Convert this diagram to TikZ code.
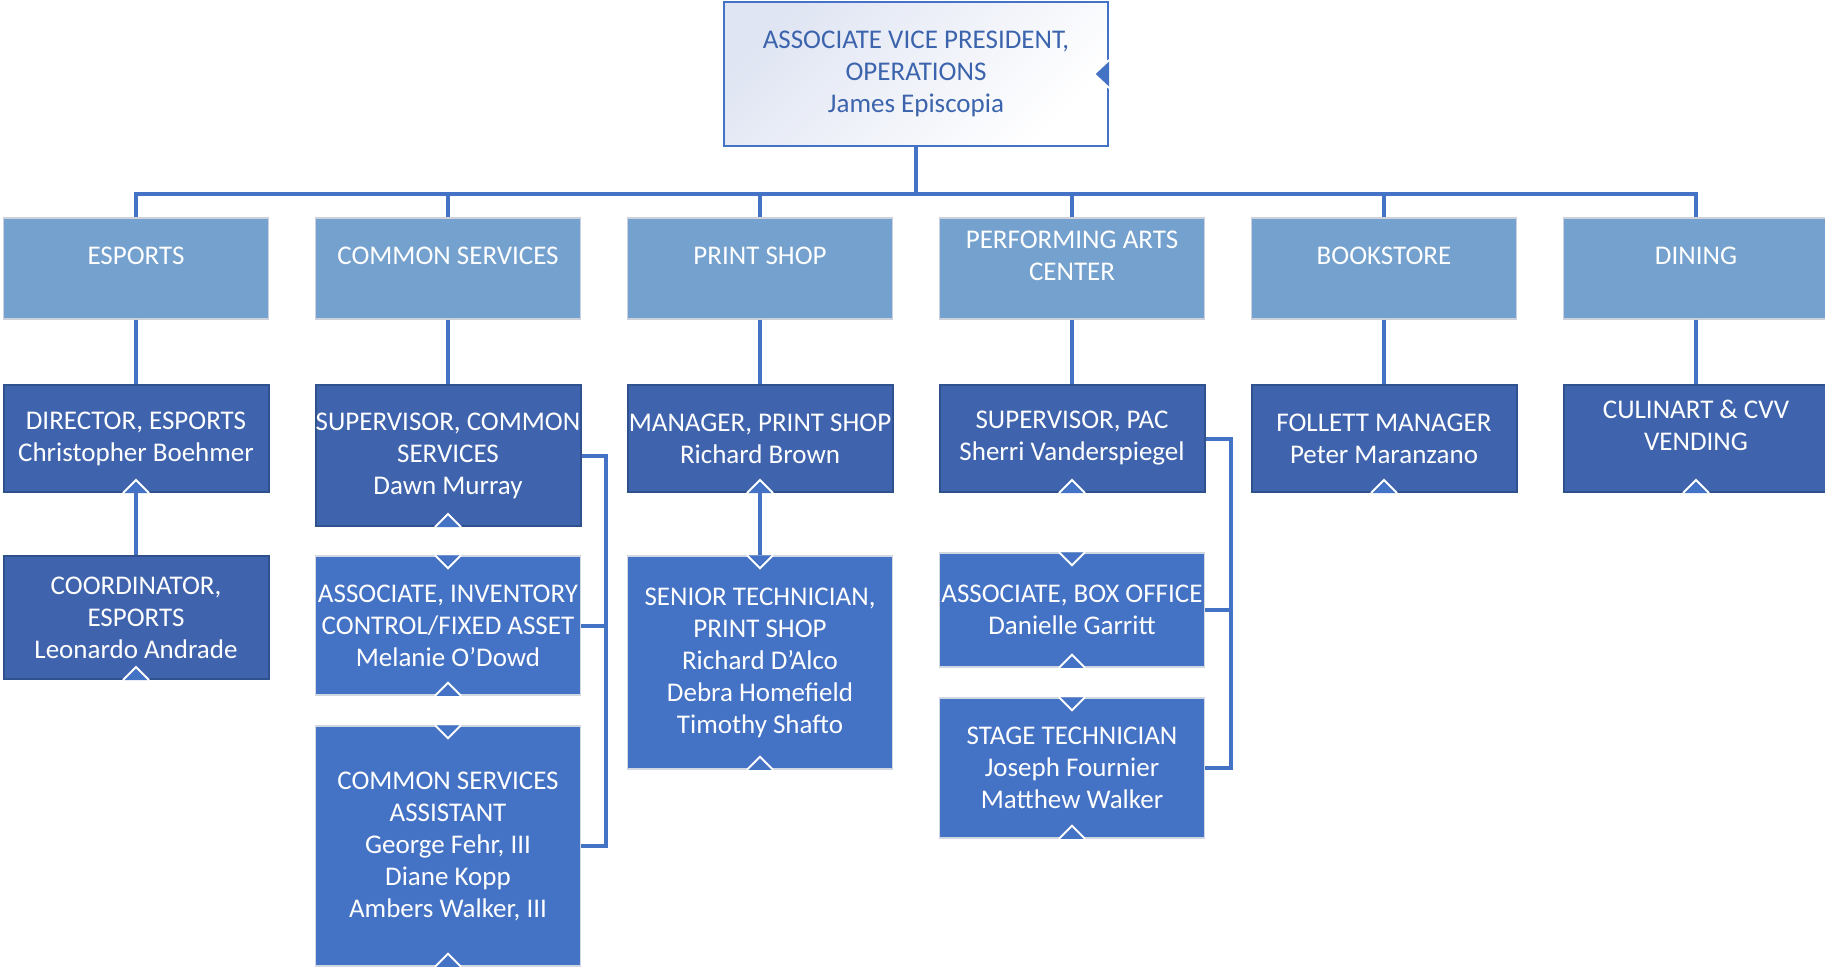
\documentclass[tikz,border=0pt]{standalone}
\usepackage{fontspec}
\setmainfont{Carlito}
\usepackage{tikz}
\usetikzlibrary{positioning, calc}

\definecolor{linkblue}{HTML}{4472C4}
\definecolor{deptfill}{HTML}{75A1CE}
\definecolor{deptedge}{HTML}{CBD1DA}
\definecolor{leadfill}{HTML}{3F64AD}
\definecolor{leadedge}{HTML}{2F528F}
\definecolor{staffedge}{HTML}{D2D8E2}
\definecolor{toptint}{HTML}{E0E5F3}
\definecolor{toptext}{HTML}{3B64AD}

\tikzset{
  chart/.style={font=\fontsize{13.5pt}{16pt}\selectfont, align=center, inner sep=0pt},
  topbox/.style={chart, rectangle, draw=linkblue, line width=1pt, top color=toptint, bottom color=white, shading angle=45, text=toptext, minimum width=192pt, minimum height=72pt},
  dept/.style={rectangle, draw=deptedge, line width=0.75pt, fill=deptfill, minimum width=132.5pt, minimum height=50.5pt},
  depttext/.style={chart, text=white},
  lead/.style={chart, rectangle, draw=leadedge, line width=1pt, fill=leadfill, text=white, minimum width=132.5pt},
  staff/.style={chart, rectangle, draw=staffedge, line width=0.75pt, fill=linkblue, text=white, minimum width=132.5pt},
  link/.style={draw=linkblue, line width=2pt},
  notch/.style={draw=white, fill=linkblue, line width=1pt}
}
\newcommand{\upnotch}[1]{%
  \filldraw[notch] ([xshift=-6.5pt]#1.south) -- ([yshift=6.5pt]#1.south) -- ([xshift=6.5pt]#1.south);%
}
\newcommand{\downnotch}[1]{%
  \filldraw[notch] ([xshift=-6.5pt]#1.north) -- ([yshift=-6.5pt]#1.north) -- ([xshift=6.5pt]#1.north);%
}

\begin{document}
\begin{tikzpicture}[x=0.5pt, y=-0.5pt]

  \useasboundingbox (0,0) rectangle (1825,966);

  % 1. Cabeza
  \node[topbox] (avp) at (916,74) {ASSOCIATE VICE PRESIDENT,\\OPERATIONS\\James Episcopia};

  % 2. Departamentos
  \foreach \name/\x/\txt in {esp/136/ESPORTS, com/448/COMMON SERVICES, prt/760/PRINT SHOP,
      pac/1072/{PERFORMING ARTS\\CENTER}, book/1384/BOOKSTORE, dine/1696/DINING} {
    \node[dept] (\name) at (\x,268.5) {};
    \node[depttext] (\name-t) at ([yshift=6.25pt]\name.center) {\txt};
  }

  % 3. Responsables
  \node[lead, minimum height=53.5pt] (desp) at (136,438.5) {DIRECTOR, ESPORTS\\Christopher Boehmer};
  \node[lead, minimum height=70.5pt] (scom) at (448,455.5) {SUPERVISOR, COMMON\\SERVICES\\Dawn Murray};
  \node[lead, minimum height=53.5pt] (mprt) at (760,438.5) {MANAGER, PRINT SHOP\\Richard Brown};
  \node[lead, minimum height=53.5pt] (spac) at (1072,438.5) {SUPERVISOR, PAC\\Sherri Vanderspiegel};
  \node[lead, minimum height=53.5pt] (mbook) at (1384,438.5) {FOLLETT MANAGER\\Peter Maranzano};
  \node[lead, minimum height=53.5pt] (cdine) at (1696,438.5) {};
  \node[depttext] (cdine-t) at ([yshift=6.5pt]cdine.center) {CULINART \& CVV\\VENDING};

  % 4. Personal
  \node[lead, minimum height=61.5pt] (cesp) at (136,617.5) {COORDINATOR,\\ESPORTS\\Leonardo Andrade};
  \node[staff, minimum height=69.5pt] (acom) at (448,625.5) {ASSOCIATE, INVENTORY\\CONTROL/FIXED ASSET\\Melanie O’Dowd};
  \node[staff, minimum height=120pt] (xcom) at (448,846) {COMMON SERVICES\\ASSISTANT\\George Fehr, III\\Diane Kopp\\Ambers Walker, III};
  \node[staff, minimum height=106.5pt] (tprt) at (760,662.5) {SENIOR TECHNICIAN,\\PRINT SHOP\\Richard D’Alco\\Debra Homefield\\Timothy Shafto};
  \node[staff, minimum height=57pt] (apac) at (1072,610) {ASSOCIATE, BOX OFFICE\\Danielle Garritt};
  \node[staff, minimum height=70pt] (tpac) at (1072,768) {STAGE TECHNICIAN\\Joseph Fournier\\Matthew Walker};

  % 5. Conexiones
  \draw[link] (avp.south) -- ++(0,-23.5pt) coordinate (bus);
  \foreach \name in {esp, com, prt, pac, book, dine}
    \draw[link] (bus) -| (\name.north);
  \foreach \up/\down in {esp/desp, com/scom, prt/mprt, pac/spac, book/mbook, dine/cdine}
    \draw[link] (\up.south) -- (\down.north);
  \draw[link] (desp.south) -- (cesp.north);
  \draw[link] (mprt.south) -- (tprt.north);

  % Corchetes laterales
  \draw[link] (scom.east) -- ++(12pt,0) coordinate (cbar) |- (xcom.east);
  \draw[link] (acom.east) -| (cbar);
  \draw[link] (spac.east) -- ++(12.5pt,0) coordinate (pbar) |- (tpac.east);
  \draw[link] (apac.east) -| (pbar);

  % 6. Muescas blancas
  \filldraw[notch] ([yshift=7pt]avp.east) -- ([xshift=-7.5pt]avp.east) -- ([yshift=-7pt]avp.east);
  \foreach \n in {desp, cesp, scom, acom, xcom, mprt, tprt, spac, apac, tpac, mbook, cdine} {
    \upnotch{\n}
  }
  \foreach \n in {acom, xcom, tprt, apac, tpac} {
    \downnotch{\n}
  }

\end{tikzpicture}
\end{document}
